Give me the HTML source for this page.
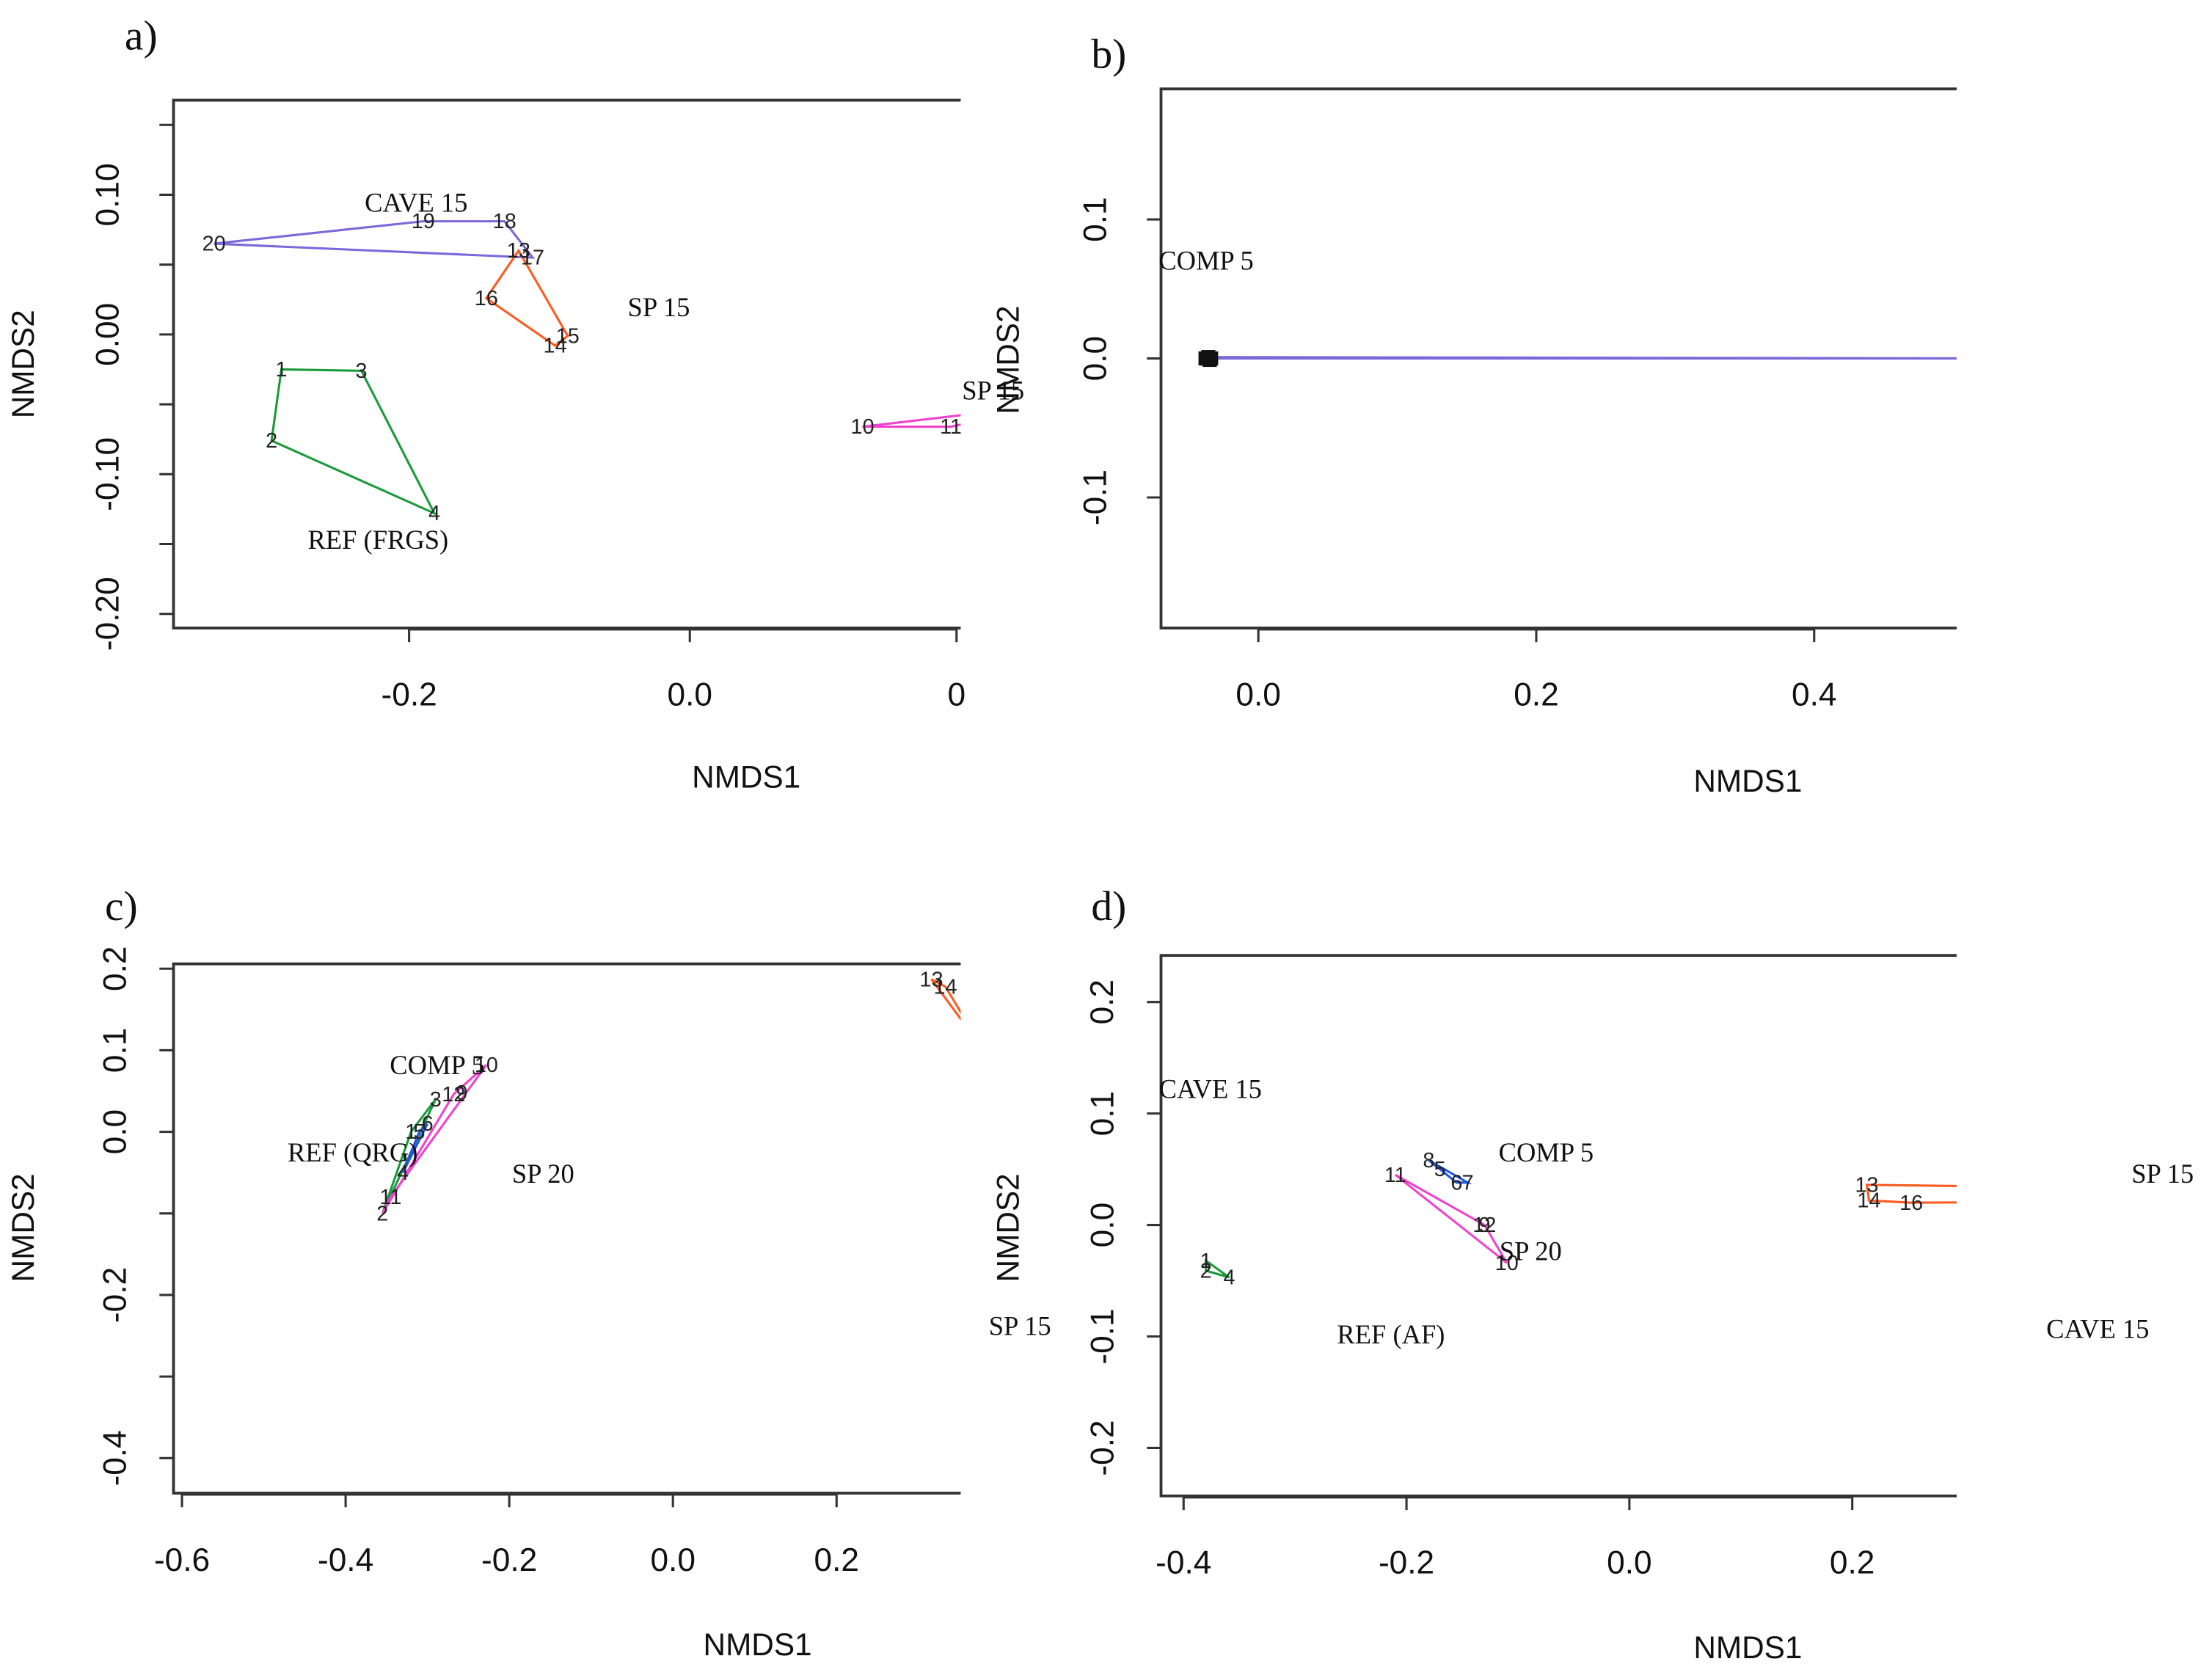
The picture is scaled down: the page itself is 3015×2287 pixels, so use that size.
<!DOCTYPE html>
<html><head><meta charset="utf-8"><style>
html,body{margin:0;padding:0;background:#fff;}
svg{display:block;}
.tk{font-family:"Liberation Sans",sans-serif;font-size:23px;fill:#111;}
.ttl{font-family:"Liberation Sans",sans-serif;font-size:22px;fill:#111;}
.pl{font-family:"Liberation Serif",serif;font-size:30px;fill:#111;}
.lab{font-family:"Liberation Serif",serif;font-size:19px;fill:#111;}
.num{font-family:"Liberation Sans",sans-serif;font-size:15px;fill:#222;}
</style></head><body>
<svg id="fig" width="3015" height="2287" viewBox="0 0 1568 1189" preserveAspectRatio="none" xmlns="http://www.w3.org/2000/svg"></svg>
<script>
// ---- Panel a data ----
const aNames = ['20','19','18','17','13','16','15','14','1','3','2','4','10','11','12'];
const aX = [-0.339,-0.19,-0.132,-0.112,-0.122,-0.145,-0.087,-0.096,-0.291,-0.234,-0.298,-0.182,0.123,0.186,0.26];
const aY = [0.065,0.081,0.081,0.055,0.06,0.026,-0.001,-0.008,-0.025,-0.026,-0.076,-0.128,-0.066,-0.066,-0.05];
const aHullPurple = ['20','19','18','17'];
const aHullOrange = ['13','16','14','15'];
const aHullGreen = ['1','3','4','2'];
const aHullPink = ['10','11','12'];
const aXTicks = [-0.2,0.0,0.19];
const aXTickLabels = ['-0.2','0.0','0'];
const aYTicks = [0.15,0.10,0.05,0.0,-0.05,-0.10,-0.15,-0.20];
const aYTickLabels = ['','0.10','','0.00','','-0.10','','-0.20'];
// ---- Panel b data ----
const bNames = ['1','2','3','4','5','20'];
const bX = [-0.037,-0.036,-0.035,-0.038,-0.034,0.55];
const bY = [0.0,0.001,-0.001,0.0,0.0,0.0];
const bXTicks = [0.0,0.2,0.4];
const bXTickLabels = ['0.0','0.2','0.4'];
const bYTicks = [0.1,0.0,-0.1];
const bYTickLabels = ['0.1','0.0','-0.1'];
// ---- Panel c data ----
const cNames = ['13','14','15','2','11','1','3','12','10','5','6','4','9'];
const cX = [0.316,0.333,0.38,-0.355,-0.345,-0.32,-0.29,-0.268,-0.228,-0.31,-0.3,-0.33,-0.258];
const cY = [0.187,0.178,0.1,-0.1,-0.08,-0.0,0.04,0.046,0.082,0.0,0.01,-0.05,0.048];
const cHullOrange = ['13','14','15'];
const cHullGreen = ['2','3','1'];
const cHullBlue = ['4','6','5'];
const cHullPink = ['11','10','12','2'];
const cXTicks = [-0.6,-0.4,-0.2,0.0,0.2];
const cXTickLabels = ['-0.6','-0.4','-0.2','0.0','0.2'];
const cYTicks = [0.2,0.1,0.0,-0.1,-0.2,-0.3,-0.4];
const cYTickLabels = ['0.2','0.1','0.0','','-0.2','','-0.4'];
// ---- Panel d data ----
const dNames = ['1','2','4','8','5','6','7','11','9','12','10','13','14','16','17','18'];
const dX = [-0.38,-0.38,-0.359,-0.18,-0.17,-0.155,-0.145,-0.21,-0.13,-0.13,-0.11,0.213,0.215,0.253,0.45,0.45];
const dY = [-0.032,-0.041,-0.047,0.058,0.05,0.038,0.038,0.045,0.0,0.0,-0.034,0.036,0.022,0.02,0.033,0.021];
const dHullGreen = ['1','4','2'];
const dHullBlue = ['8','7','6','5'];
const dHullPink = ['11','12','10'];
const dHullOrange = ['13','17','18','16','14'];
const dXTicks = [-0.4,-0.2,0.0,0.2];
const dXTickLabels = ['-0.4','-0.2','0.0','0.2'];
const dYTicks = [0.2,0.1,0.0,-0.1,-0.2];
const dYTickLabels = ['0.2','0.1','0.0','-0.1','-0.2'];

const NS='http://www.w3.org/2000/svg';
const svg=document.getElementById('fig');
function mk(tag,attrs,parent){const e=document.createElementNS(NS,tag);for(const k in attrs)e.setAttribute(k,attrs[k]);(parent||svg).appendChild(e);return e;}
function txt(s,x,y,cls,parent,extra){const t=mk('text',Object.assign({x:x,y:y,class:cls,'text-anchor':'middle'},extra||{}),parent);t.textContent=s;return t;}

function panel(p){
  const g=mk('g',{});
  
  
  const sx=v=>p.x0px+(v-p.x0v)*p.kx;
  const sy=v=>p.y0px-(v-p.y0v)*p.ky;
  const clipId='clip'+p.id;
  const cp=mk('clipPath',{id:clipId},g);
  mk('rect',{x:p.L,y:p.T,width:p.R-p.L,height:p.B-p.T},cp);
  const fr=mk('path',{d:`M${p.R},${p.T}H${p.L}V${p.B}H${p.R}`,fill:'none',stroke:'#333','stroke-width':2},g);
  
  
  p.yT.forEach((v,i)=>{
    const y=sy(v);
    const tl=mk('line',{x1:p.L-10,x2:p.L,y1:y,y2:y,stroke:'#333','stroke-width':1.6},g);
    
    
    if(p.yL[i]){const lx=p.L-p.yOff;const t=txt(p.yL[i],lx,y,'tk',g,{transform:`rotate(-90 ${lx} ${y})`,'dominant-baseline':'middle'});
      
      }
  });
  const xs=p.xT.map(sx);
  const ax=mk('line',{x1:xs[0],x2:Math.min(xs[xs.length-1],p.R),y1:p.B+1,y2:p.B+1,stroke:'#333','stroke-width':1.6},g);
  
  
  p.xT.forEach((v,i)=>{
    const x=sx(v);
    if(x<=p.R+1){
      const tl=mk('line',{x1:x,x2:x,y1:p.B,y2:p.B+10,stroke:'#333','stroke-width':1.6},g);
      
      
    }
    const t=txt(p.xL[i],x,p.B+55,'tk',g);
    
    
  });
  const xt=txt('NMDS1',p.xtX,p.xtY,'ttl',g);
  
  
  const yt=txt('NMDS2',p.ytX,p.ytY,'ttl',g,{transform:`rotate(-90 ${p.ytX} ${p.ytY})`});
  
  
  const pl=txt(p.letter,p.letX,p.letY,'pl',g);
  
  
  const mg=mk('g',{'clip-path':`url(#${clipId})`},g);
  const idx=n=>p.names.indexOf(n);
  p.hulls.forEach(h=>{
    const pts=h.ids.map(n=>sx(p.X[idx(n)])+','+sy(p.Y[idx(n)])).join(' ');
    const pg=mk('polygon',{points:pts,fill:'none',stroke:h.c,'stroke-width':1.6},mg);
    
    
  });
  p.names.forEach((n,i)=>{
    if(p.squares){
      const r=mk('rect',{x:sx(p.X[i])-5,y:sy(p.Y[i])-5,width:10,height:10,fill:'#111'},mg);
      
      
      return;
    }
    const t=txt(n,sx(p.X[i]),sy(p.Y[i])+5,'num',mg);
    
    
  });
  p.labels.forEach(l=>{
    const t=txt(l[0],l[1],l[2],'lab',g,{'xml:space':'preserve'});
    
    
  });
}

panel({id:'a',letter:'a)',letX:100,letY:35,L:123,R:681,T:71,B:445,x0px:489,x0v:0,kx:995,y0px:237,y0v:0,ky:990,yOff:45,
  xT:aXTicks,xL:aXTickLabels,yT:aYTicks,yL:aYTickLabels,xtX:529,xtY:558,ytX:24,ytY:258,
  names:aNames,X:aX,Y:aY,
  hulls:[{ids:aHullPurple,c:'#7b68d9',name:'cave'},{ids:aHullOrange,c:'#ff5a1f',name:'sp15'},{ids:aHullGreen,c:'#1a9a3a',name:'ref'},{ids:aHullPink,c:'#ee44cc',name:'sp'}],
  labels:[['CAVE  15',295,150],['SP  15',467,224],['REF (FRGS)',268,389],['SP  15',704,283]]});
panel({id:'b',letter:'b)',letX:786,letY:48,L:823,R:1387,T:63,B:445,x0px:892,x0v:0,kx:985,y0px:254,y0v:0,ky:985,yOff:45,
  xT:bXTicks,xL:bXTickLabels,yT:bYTicks,yL:bYTickLabels,xtX:1239,xtY:561,ytX:722,ytY:255,
  names:bNames,X:bX,Y:bY,squares:true,
  hulls:[{ids:['1','20','2'],c:'#7b68d9',name:'cave'}],
  labels:[['COMP  5',855,191]]});
panel({id:'c',letter:'c)',letX:86,letY:652,L:123,R:681,T:683,B:1058,x0px:477,x0v:0,kx:580,y0px:802,y0v:0,ky:578,yOff:40,
  xT:cXTicks,xL:cXTickLabels,yT:cYTicks,yL:cYTickLabels,xtX:537,xtY:1173,ytX:24,ytY:870,
  names:cNames,X:cX,Y:cY,
  hulls:[{ids:cHullOrange,c:'#ff5a1f',name:'sp15'},{ids:cHullGreen,c:'#1a9a3a',name:'ref'},{ids:cHullBlue,c:'#2255dd',name:'comp'},{ids:cHullPink,c:'#ee44cc',name:'sp20'}],
  labels:[['COMP  5',310,761],['REF (QRG)',250,823],['SP  20',385,838],['SP  15',723,946]]});
panel({id:'d',letter:'d)',letX:786,letY:652,L:823,R:1387,T:677,B:1060,x0px:1155,x0v:0,kx:790,y0px:868,y0v:0,ky:790,yOff:40,
  xT:dXTicks,xL:dXTickLabels,yT:dYTicks,yL:dYTickLabels,xtX:1239,xtY:1175,ytX:722,ytY:870,
  names:dNames,X:dX,Y:dY,
  hulls:[{ids:dHullGreen,c:'#1a9a3a',name:'ref'},{ids:dHullBlue,c:'#2255dd',name:'comp'},{ids:dHullPink,c:'#ee44cc',name:'sp20'},{ids:dHullOrange,c:'#ff5a1f',name:'sp15'}],
  labels:[['CAVE  15',858,778],['COMP  5',1096,823],['SP  20',1085,893],['REF (AF)',986,952],['SP  15',1533,838],['CAVE  15',1487,948]]});
</script>
</body></html>
